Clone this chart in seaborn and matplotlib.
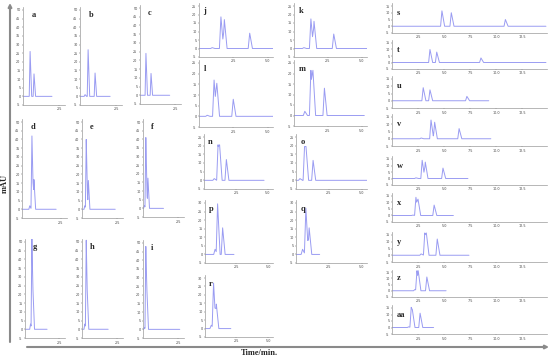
import matplotlib

matplotlib.use("Agg")
import matplotlib.pyplot as plt
import numpy as np
import pandas as pd
import seaborn as sns

W, H = 550, 358

# ---- panels a-i (short runs, 0-50 mAU) ----
G1_LABELS = ["a", "b", "c", "d", "e", "f", "g", "h", "i"]
G1_TIMES = [
    [0.49, 0.76],
    [0.35, 0.56, 1.04],
    [0.42, 0.78],
    [0.50, 0.64, 0.77],
    [0.20, 0.30, 0.45],
    [0.10, 0.20, 0.35],
    [0.40, 0.50, 0.58],
    [0.20, 0.30, 0.37],
    [0.10, 0.20, 0.28],
]
G1_HEIGHTS = [
    [26, 13],
    [1, 27, 13.5],
    [24, 12.5],
    [2, 42, 17],
    [2, 40, 16.5],
    [1.5, 41, 17.5],
    [3, 52, 22],
    [3, 51, 22],
    [1, 48, 22],
]
G1_END = [2.0, 2.08, 2.1, 2.2, 2.35, 1.45, 1.6, 1.85, 2.6]

# ---- panels j-r (0-25/30 mAU) ----
G2_LABELS = ["j", "k", "l", "m", "n", "o", "p", "q", "r"]
G2_TIMES = [
    [0.96, 1.60, 1.85, 3.70],
    [0.73, 1.25, 1.48, 2.94],
    [0.60, 1.10, 1.30, 2.50],
    [0.80, 1.25, 1.40, 2.25],
    [0.80, 1.10, 1.22, 1.75],
    [0.30, 0.65, 0.76, 1.30],
    [0.80, 1.00, 1.40],
    [0.50, 0.75, 1.00],
    [0.50, 0.68, 0.90],
]
G2_HEIGHTS = [
    [0.5, 18.6, 17, 9],
    [0.5, 17.4, 16, 8.5],
    [0.5, 17, 15.5, 8],
    [2, 21.5, 21.5, 13],
    [1, 20.5, 20.5, 12],
    [1, 19.5, 19.5, 11.5],
    [3, 29.5, 15.5],
    [3, 27, 15.5],
    [2, 27, 14.5],
]
G2_END = [5.4, 5.4, 5.4, 5.2, 4.7, 5.4, 2.3, 1.8, 2.05]
G2_YMAX = [25, 25, 25, 25, 25, 25, 30, 30, 30]

# ---- panels s-aa (long runs, 0-15 mAU) ----
G3_LABELS = ["s", "t", "u", "v", "w", "x", "y", "z", "aa"]
G3_TIMES = [
    [4.80, 5.70, 10.90],
    [3.65, 4.30, 8.55],
    [3.00, 3.65, 7.20],
    [2.80, 3.75, 4.10, 6.45],
    [2.30, 2.90, 3.20, 4.90],
    [2.00, 2.30, 2.50, 4.05],
    [2.80, 3.15, 3.30, 4.35],
    [2.20, 2.40, 2.52, 3.35],
    [1.60, 1.85, 1.95, 2.70],
]
G3_HEIGHTS = [
    [11.4, 10, 5],
    [10, 8, 3.5],
    [9, 7.5, 3],
    [0.5, 12.9, 11.4, 7],
    [0.5, 14, 12.6, 8],
    [0.3, 14, 12.6, 8],
    [1, 16.5, 16.5, 12],
    [1, 16, 16, 11],
    [0.5, 15.5, 14, 11],
]
G3_END = [14.8, 14.8, 9.3, 9.5, 7.3, 5.9, 7.4, 5.2, 4.0]

# ---- layout (pixel boxes: x0, x1, y of top tick, y of -5 tick) ----
G1_BOXES = [
    (23, 65, 10, 105), (80, 122, 10, 105), (140, 181, 8, 104),
    (22, 67, 122, 218), (82, 123, 122, 218), (143, 184, 122, 217),
    (25, 65, 242, 338), (82, 123, 242, 338), (143, 184, 243, 338),
]
G2_BOXES = [
    (199, 273, 6, 57), (294, 367, 6, 57),
    (199, 273, 63, 127), (294, 367, 63, 126),
    (204, 273, 137, 189), (296, 367, 137, 189),
    (205, 273, 203, 263), (296, 367, 203, 263),
    (205, 273, 278, 337),
]
G3_ROWS = [(6, 33), (43, 69), (79, 108), (117, 146), (159, 185),
           (196, 222), (235, 262), (272, 297), (308, 334)]

LINE_COLOR = "#9a9cf2"
SPINE_COLOR = "#9a9a9a"
SERIF = ["Liberation Serif", "DejaVu Serif"]


def trace(times, heights, end, wl, wr):
    # each peak drawn as a narrow tailing spike, overlapping spikes keep
    # their own apex (upper envelope)
    knots = [0.0, end]
    for t in times:
        knots += [t - wl, t, t + wr]
    xs = np.unique(np.clip(knots, 0, end))
    ys = np.zeros_like(xs)
    for t, h in zip(times, heights):
        ys = np.maximum(ys, np.interp(xs, [t - wl, t, t + wr], [0, h, 0],
                                      left=0, right=0))
    return pd.DataFrame({"time": xs, "mAU": ys})


def add_panel(fig, box, ytop_tick, ylim_top, xlim, xticks, yticks, df, label, lx, ly):
    x0, x1, yt, yb = box
    ppu = (yb - yt) / (ytop_tick + 5)
    y_axes_top = yt - (ylim_top - ytop_tick) * ppu
    ax = fig.add_axes([x0 / W, 1 - yb / H, (x1 - x0) / W, (yb - y_axes_top) / H])
    sns.lineplot(data=df, x="time", y="mAU", ax=ax, color=LINE_COLOR,
                 linewidth=0.7, estimator=None, sort=False)
    ax.set_xlim(*xlim)
    ax.set_ylim(-5, ylim_top)
    ax.set_xticks(xticks)
    ax.set_xticklabels([f"{v:.1f}" for v in xticks])
    ax.set_yticks(yticks)
    ax.set_yticklabels([str(v) for v in yticks])
    ax.set_xlabel("")
    ax.set_ylabel("")
    ax.patch.set_alpha(0)
    for side in ("top", "right"):
        ax.spines[side].set_visible(False)
    for side in ("left", "bottom"):
        ax.spines[side].set_color(SPINE_COLOR)
        ax.spines[side].set_linewidth(0.5)
    ax.tick_params(labelsize=2.4, length=1, width=0.3, pad=0.8,
                   colors="#444444")
    ax.text(lx, ly, label, transform=ax.transAxes, fontsize=6,
            fontweight="bold", family=SERIF, va="center", ha="left")
    return ax


def main() -> None:
    sns.set_style("ticks")
    plt.rcParams["font.family"] = ["DejaVu Sans"]
    fig = plt.figure(figsize=(W / 100, H / 100), dpi=100)

    # frame with the big arrows
    frame = fig.add_axes([0, 0, 1, 1])
    frame.set_xlim(0, W)
    frame.set_ylim(H, 0)
    frame.axis("off")
    arrow = dict(arrowstyle="-|>", color="#8a8a8a", lw=1.5, mutation_scale=5,
                 shrinkA=0, shrinkB=0)
    frame.annotate("", xy=(10, 3), xytext=(10, 342), arrowprops=arrow)
    frame.annotate("", xy=(549, 347), xytext=(27, 347), arrowprops=arrow)
    frame.text(5, 183, "mAU", rotation=90, fontsize=6, fontweight="bold",
               family=SERIF, ha="center", va="center")
    frame.text(259, 353, "Time/min.", fontsize=6, fontweight="bold",
               family=SERIF, ha="center", va="center")

    for i, label in enumerate(G1_LABELS):
        df = trace(G1_TIMES[i], G1_HEIGHTS[i], G1_END[i], 0.06, 0.11)
        add_panel(fig, G1_BOXES[i], 50, 52, (0, 2.9), [2.5],
                  list(range(-5, 55, 5)), df, label, 0.2, 0.91)

    for i, label in enumerate(G2_LABELS):
        df = trace(G2_TIMES[i], G2_HEIGHTS[i], G2_END[i], 0.11, 0.2)
        ymax = G2_YMAX[i]
        add_panel(fig, G2_BOXES[i], ymax, ymax + 1.5, (0, 5.4), [2.5, 5.0],
                  list(range(-5, ymax + 5, 5)), df, label, 0.06, 0.86)

    for i, label in enumerate(G3_LABELS):
        df = trace(G3_TIMES[i], G3_HEIGHTS[i], G3_END[i], 0.13, 0.26)
        yt, yb = G3_ROWS[i]
        add_panel(fig, (392, 547, yt, yb), 15, 17, (0, 14.9),
                  [2.5, 5.0, 7.5, 10.0, 12.5], [-5, 0, 5, 10, 15],
                  df, label, 0.03, 0.68)

    fig.savefig("out.png", dpi=100)
    plt.close(fig)


if __name__ == "__main__":
    main()
